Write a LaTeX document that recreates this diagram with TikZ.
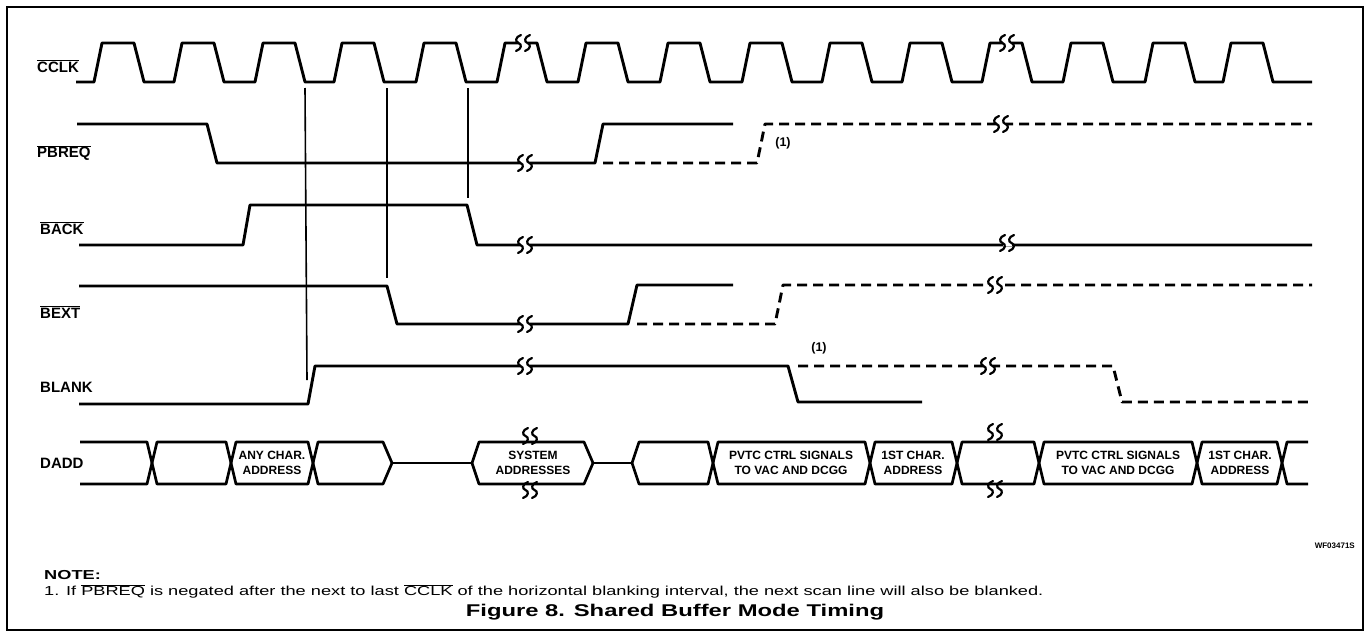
\documentclass[tikz,border=0pt]{standalone}
\usepackage{fontspec}
\setmainfont{Liberation Sans}
\newfontfamily\notefont[FakeStretch=1.4]{Liberation Sans}
\newfontfamily\titlefont[FakeStretch=1.4]{Liberation Sans}
\newcommand\ovl[1]{\ensuremath{\overline{\mbox{#1}}}}
\newcommand\brkmark[2]{\draw[mk] (#1+2.5,#2-8) .. controls (#1-3.5,#2-6) and (#1-3.5,#2-1) .. (#1,#2) .. controls (#1+3.5,#2+1) and (#1+3.5,#2+6) .. (#1-2.5,#2+8);}
\newcommand\brk[2]{\fill[white] (#1-4.5,#2-3) rectangle (#1+4.5,#2+3); \brkmark{#1-4.5}{#2}\brkmark{#1+4.5}{#2}}
\tikzset{
  sig/.style={line width=2.9pt, line join=round},
  dsh/.style={sig, dash pattern=on 10pt off 6pt},
  mk/.style={line width=2.2pt, line cap=round},
  vln/.style={line width=1.6pt},
  bus/.style={line width=2.7pt, line join=round},
  lbl/.style={anchor=west, inner sep=0pt, font=\fontsize{15}{15}\selectfont\bfseries},
  cell/.style={inner sep=0pt, align=center, font=\fontsize{12}{15}\selectfont\bfseries},
  ann/.style={inner sep=0pt, font=\fontsize{12.5}{12.5}\selectfont\bfseries}
}
\begin{document}
\begin{tikzpicture}[x=1pt,y=-1pt]
\useasboundingbox (0,0) rectangle (1367,635);
\draw[line width=1.5pt] (7,7) rectangle (1363,630);
% labels
\node[lbl] (lclk) at (37,66) {\ovl{CCLK}};
\node[lbl] (lpb) at (37,153) {\ovl{PBREQ}};
\node[lbl] (lback) at (40,228) {\ovl{BACK}};
\node[lbl] (lbext) at (40,312) {\ovl{BEXT}};
\node[lbl] (lblank) at (40,387) {BLANK};
\node[lbl] (ldadd) at (40,463) {DADD};
% vertical reference lines
\draw[vln] (305,88) -- (307,380);
\draw[vln] (387,88) -- (387,278);
\draw[vln] (468,88) -- (468,198);
% CCLK
\draw[sig] (76,82) \foreach \r in {94,174,255,334,416,497,578,660,742,822,902,982,1063,1145,1223} { -- (\r,82) -- (\r+8,43) -- (\r+40,43) -- (\r+50,82) } -- (1312,82);
% PBREQ
\draw[sig] (77,124) -- (207,124) -- (217,163) -- (595,163) -- (603,124) -- (733,124);
\draw[dsh] (603,163) -- (757,163) -- (765,124) -- (1312,124);
\node[ann] (n1a) at (783,143) {(1)};
% BACK
\draw[sig] (79,245) -- (243,245) -- (250,205) -- (467,205) -- (477,245) -- (1312,245);
% BEXT
\draw[sig] (79,286) -- (387,286) -- (397,324) -- (628,324) -- (637,285) -- (733,285);
\draw[dsh] (637,324) -- (775,324) -- (783,285) -- (1312,285);
% BLANK
\draw[sig] (79,404) -- (308,404) -- (315,366) -- (788,366) -- (798,402) -- (922,402);
\draw[dsh] (798,366) -- (1113,366) -- (1122,402) -- (1312,402);
\node[ann] (n1b) at (819,348) {(1)};
% DADD bus
\draw[bus] (80,442) -- (147,442) -- (152,463) -- (147,484) -- (80,484);
\foreach \a/\b in {152/231,231/313,713/870,870/957,957/1039,1039/1197,1197/1282}
  \draw[bus] (\a,463) -- (\a+5,442) -- (\b-5,442) -- (\b,463) -- (\b-5,484) -- (\a+5,484) -- cycle;
\draw[bus] (313,463) -- (318,442) -- (383,442) -- (392,463) -- (383,484) -- (318,484) -- cycle;
\draw[bus] (392,463) -- (472,463);
\draw[bus] (472,463) -- (479,442) -- (584,442) -- (593,463) -- (584,484) -- (479,484) -- cycle;
\draw[bus] (593,463) -- (632,463);
\draw[bus] (632,463) -- (639,442) -- (708,442) -- (713,463) -- (708,484) -- (639,484) -- cycle;
\draw[bus] (1308,442) -- (1287,442) -- (1282,463) -- (1287,484) -- (1308,484);
\node[cell] (d3) at (272,463) {ANY CHAR.\\ADDRESS};
\node[cell] (d6) at (533,463) {SYSTEM\\ADDRESSES};
\node[cell] (d9) at (791,463) {PVTC CTRL SIGNALS\\TO VAC AND DCGG};
\node[cell] (d10) at (913,463) {1ST CHAR.\\ADDRESS};
\node[cell] (d12) at (1118,463) {PVTC CTRL SIGNALS\\TO VAC AND DCGG};
\node[cell] (d13) at (1240,463) {1ST CHAR.\\ADDRESS};
% breaks
\brk{523}{43}
\brk{1007}{43}
\brk{525}{163}
\brk{1001}{124}
\brk{525}{245}
\brk{1007}{243}
\brk{525}{324}
\brk{995}{285}
\brk{525}{366}
\brk{988}{366}
\brk{530}{436}
\brk{530}{490}
\brk{995}{432}
\brk{995}{489}
% notes
\node[inner sep=0pt, anchor=east, font=\fontsize{8}{8}\selectfont\bfseries] (wf) at (1355,546) {WF03471S};
\node[inner sep=0pt, anchor=west, font=\notefont\fontsize{13}{13}\selectfont\bfseries] (note) at (44,575) {NOTE:};
\node[inner sep=0pt, anchor=west, font=\notefont\fontsize{13}{13}\selectfont] (note1) at (44,591) {1. If \ovl{PBREQ} is negated after the next to last \ovl{CCLK} of the horizontal blanking interval, the next scan line will also be blanked.};
\node[inner sep=0pt, font=\titlefont\fontsize{17}{17}\selectfont\bfseries] (title) at (675,612) {Figure 8. Shared Buffer Mode Timing};
\end{tikzpicture}
\end{document}
